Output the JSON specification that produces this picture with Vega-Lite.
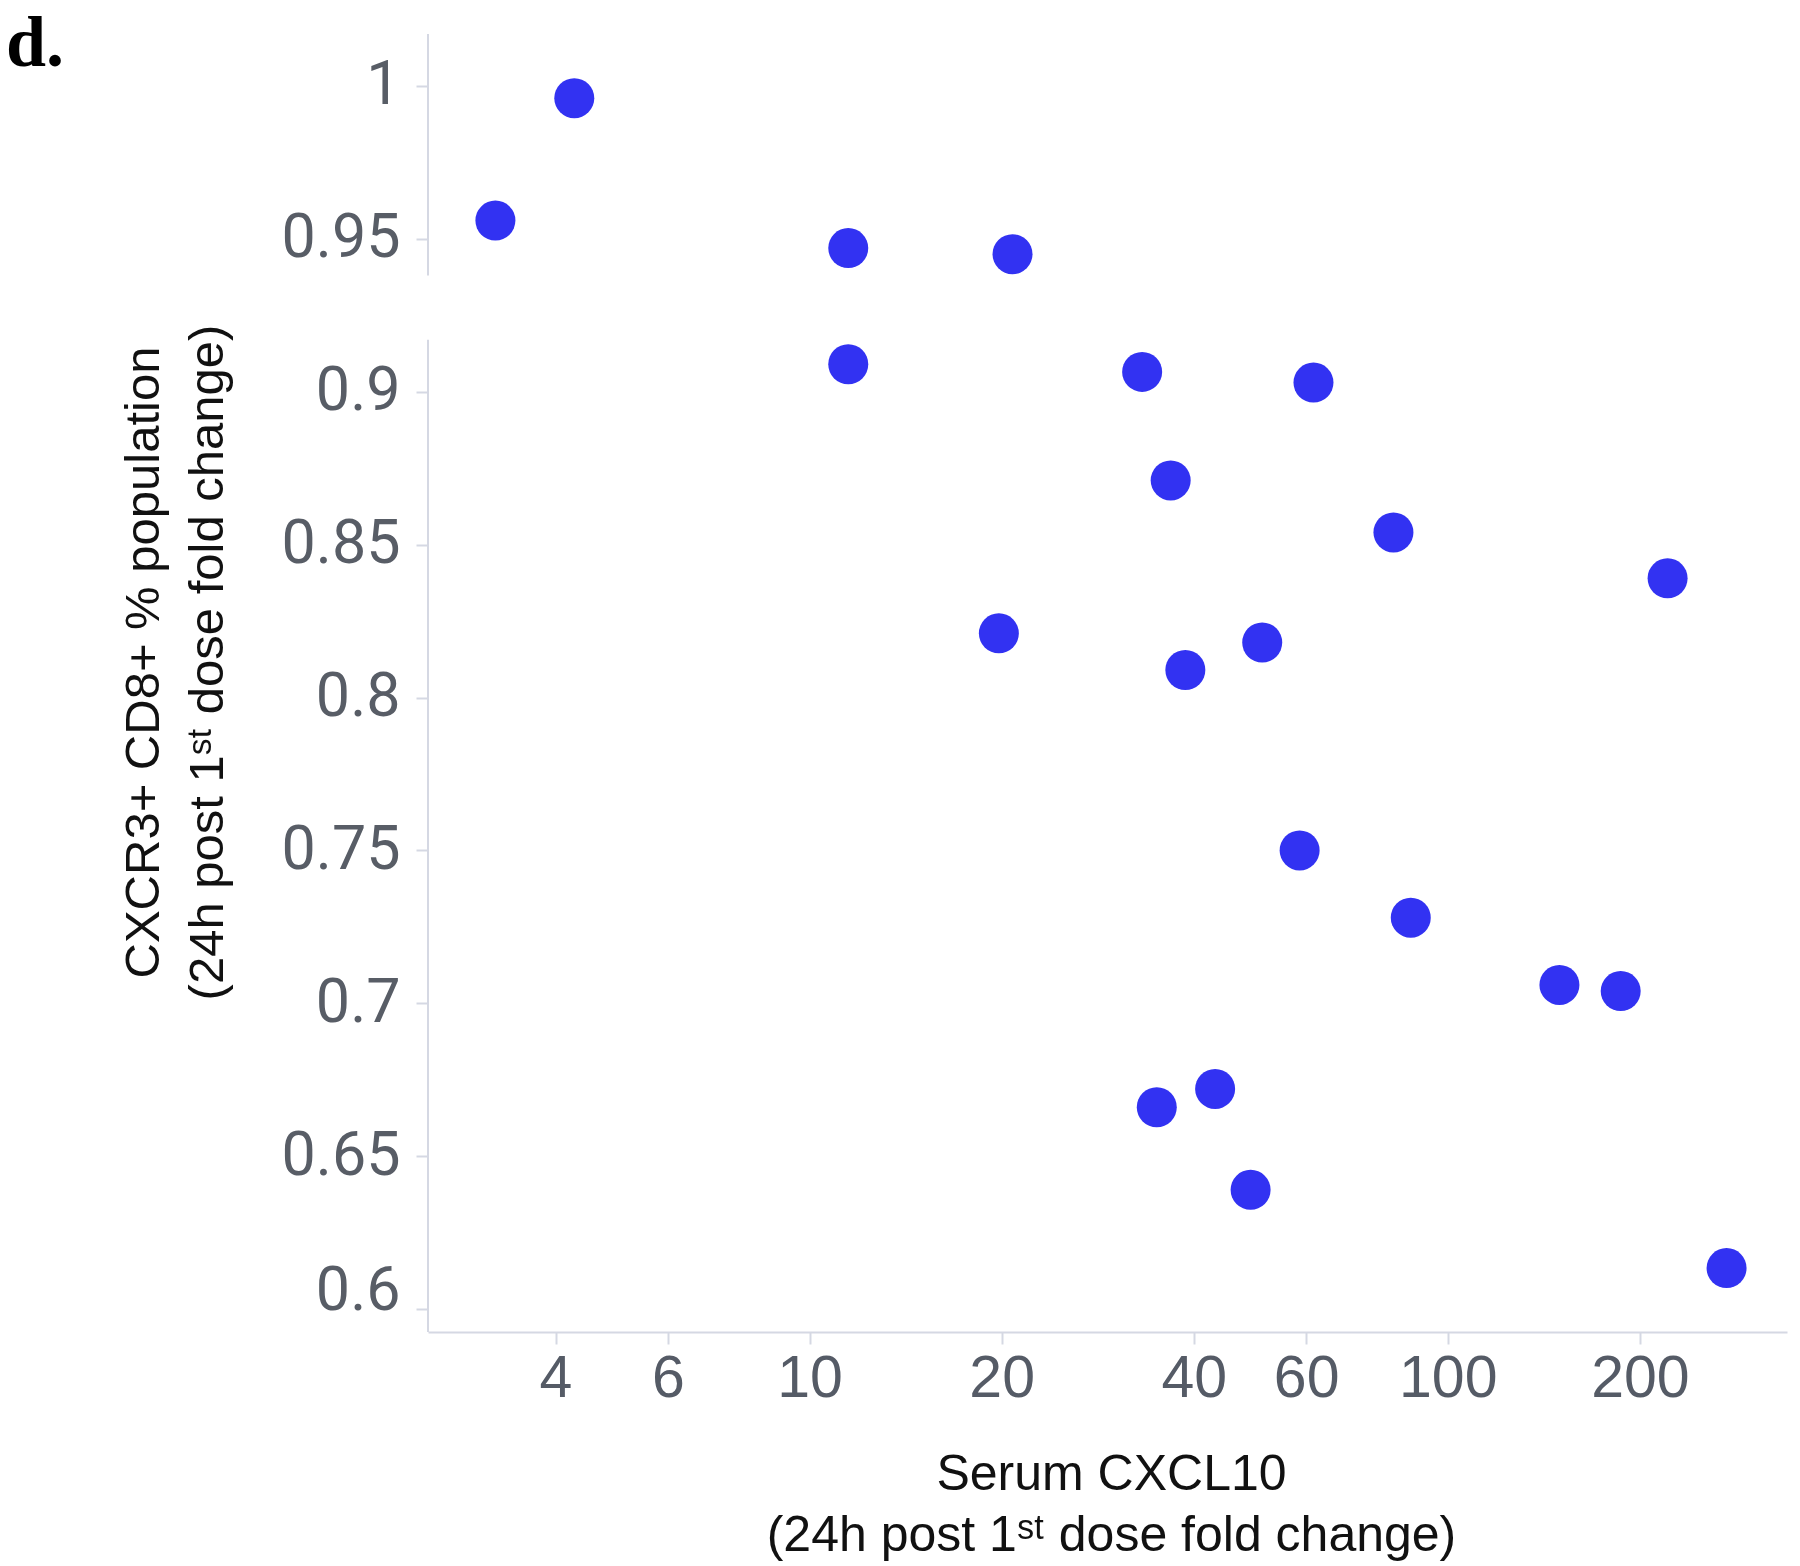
{
  "$schema": "https://vega.github.io/schema/vega-lite/v6.json",
  "autosize": "none",
  "width": 1359,
  "height": 1298,
  "padding": {"left": 428, "top": 34, "right": 13, "bottom": 234},
  "background": "white",
  "title": {
    "text": "d.",
    "anchor": "start",
    "frame": "group",
    "orient": "top",
    "offset": 0,
    "baseline": "alphabetic",
    "dx": -422,
    "dy": 105,
    "font": "Liberation Serif",
    "fontSize": 72,
    "fontWeight": "bold",
    "color": "#000000"
  },
  "config": {
    "view": {"stroke": null},
    "axis": {"grid": false, "domainColor": "#d5d8e3", "tickColor": "#d5d8e3", "domainWidth": 2, "tickWidth": 2}
  },
  "datasets": {
    "points": [
      {"cxcl10": 4.28, "cd8": 0.996},
      {"cxcl10": 3.22, "cd8": 0.956},
      {"cxcl10": 11.5, "cd8": 0.947},
      {"cxcl10": 20.8, "cd8": 0.945},
      {"cxcl10": 11.5, "cd8": 0.909},
      {"cxcl10": 33.2, "cd8": 0.9065},
      {"cxcl10": 61.6, "cd8": 0.903},
      {"cxcl10": 36.8, "cd8": 0.871},
      {"cxcl10": 82.2, "cd8": 0.854},
      {"cxcl10": 221, "cd8": 0.839},
      {"cxcl10": 19.8, "cd8": 0.821},
      {"cxcl10": 51.2, "cd8": 0.818},
      {"cxcl10": 38.8, "cd8": 0.809},
      {"cxcl10": 58.6, "cd8": 0.75},
      {"cxcl10": 87.5, "cd8": 0.728},
      {"cxcl10": 149.6, "cd8": 0.706},
      {"cxcl10": 186.6, "cd8": 0.704},
      {"cxcl10": 43.2, "cd8": 0.672},
      {"cxcl10": 35.0, "cd8": 0.666},
      {"cxcl10": 49.1, "cd8": 0.639},
      {"cxcl10": 273.4, "cd8": 0.6134}
    ],
    "axisSegments": [
      {"start": 0.938, "end": 1.017},
      {"start": 0.5925, "end": 0.917}
    ]
  },
  "layer": [
    {
      "data": {"name": "axisSegments"},
      "mark": {"type": "rule", "color": "#d5d8e3", "strokeWidth": 2},
      "encoding": {
        "x": {"datum": 2.525, "type": "quantitative", "scale": {"type": "log", "domain": [2.525, 340], "nice": false}},
        "y": {"field": "start", "type": "quantitative", "scale": {"domain": [0.5925, 1.017], "nice": false, "zero": false}},
        "y2": {"field": "end"}
      }
    },
    {
      "data": {"name": "points"},
      "mark": {"type": "circle", "size": 1600, "opacity": 1, "color": "#3232f2"},
      "encoding": {
        "x": {
          "field": "cxcl10",
          "type": "quantitative",
          "scale": {"type": "log", "domain": [2.525, 340], "nice": false},
          "axis": {
            "values": [4, 6, 10, 20, 40, 60, 100, 200],
            "format": "~g",
            "tickSize": 12,
            "labelFont": "Liberation Sans",
            "labelFontSize": 59,
            "labelColor": "#555b66",
            "labelPadding": 5,
            "title": ["Serum CXCL10", "(24h post 1ˢᵗ dose fold change)"],
            "titleFont": "Liberation Sans",
            "titleFontSize": 50,
            "titleFontWeight": "normal",
            "titleColor": "#111111",
            "titleLineHeight": 61,
            "titleBaseline": "alphabetic",
            "titleAlign": "center",
            "titleX": 683,
            "titleY": 157
          }
        },
        "y": {
          "field": "cd8",
          "type": "quantitative",
          "scale": {"domain": [0.5925, 1.017], "nice": false, "zero": false},
          "axis": {
            "values": [0.6, 0.65, 0.7, 0.75, 0.8, 0.85, 0.9, 0.95, 1],
            "format": "~g",
            "domain": false,
            "tickSize": 12,
            "labelFont": "Roboto",
            "labelFontSize": 61,
            "labelColor": "#585d66",
            "labelPadding": 16,
            "labelBaseline": {"condition": {"test": "datum.value < 0.61", "value": "alphabetic"}, "value": "middle"},
            "title": ["CXCR3+  CD8+  % population", "(24h post 1ˢᵗ dose  fold change)"],
            "titleFont": "Liberation Sans",
            "titleFontSize": 49,
            "titleFontWeight": "normal",
            "titleColor": "#111111",
            "titleLineHeight": 64,
            "titleAngle": -90,
            "titleBaseline": "middle",
            "titleAlign": "center",
            "titleX": -285,
            "titleY": 628
          }
        }
      }
    }
  ]
}
